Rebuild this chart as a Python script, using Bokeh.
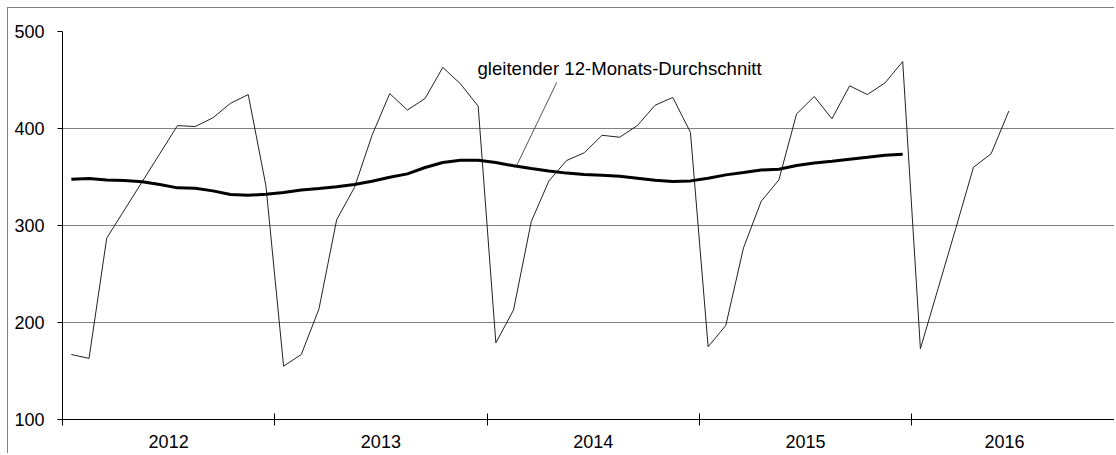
import numpy as np
from bokeh.plotting import figure
from bokeh.models import Range1d, FixedTicker, Label
from bokeh.embed import file_html
from bokeh.resources import INLINE

# ---- data ----
years = [2012, 2013, 2014, 2015, 2016]
year_label_pos = [6, 18, 30, 42, 53.25]      # centre of each year group (month units)
year_boundaries = [0, 12, 24, 36, 48]

monthly_values = [
    167, 163, 287, 316, 345, 374, 403, 402, 411, 426, 435, 341,   # 2012
    155, 167, 214, 306, 339, 393, 436, 419, 431, 463, 446, 423,   # 2013
    179, 213, 304, 346, 367, 375, 393, 391, 403, 424, 432, 396,   # 2014
    175, 197, 277, 325, 347, 415, 433, 410, 444, 435, 447, 469,   # 2015
    173, 235, 297, 360, 374, 418,                                 # 2016
]
moving_avg = [
    347.7, 348.4, 347.0, 346.4, 345.0, 342.3, 338.8, 338.5, 335.7, 332.0, 331.2, 332.3,
    334.0, 336.7, 338.1, 340.0, 342.3, 345.7, 349.8, 353.2, 359.8, 365.0, 367.3, 367.3,
    365.0, 361.5, 358.8, 356.3, 354.0, 352.6, 351.9, 350.8, 348.8, 346.7, 345.3, 346.0,
    348.8, 352.2, 354.6, 357.3, 358.0, 361.8, 364.5, 366.3, 368.4, 370.4, 372.5, 373.5,
]
y_ticks = [100, 200, 300, 400, 500]
annotation_text = "gleitender 12-Monats-Durchschnitt"

FONT = "Liberation Sans"

x_monthly = np.arange(len(monthly_values)) + 0.5
x_avg = np.arange(len(moving_avg)) + 0.5

p = figure(width=1107, height=446,
           x_range=Range1d(0, 59.53), y_range=Range1d(100, 500),
           output_backend="svg", toolbar_location=None,
           min_border_left=54, min_border_right=0,
           min_border_top=23, min_border_bottom=35)
p.styles = {"border-left": "1px solid #808080", "border-top": "1px solid #808080",
            "margin-left": "7px", "margin-top": "7px"}
p.outline_line_color = None
p.background_fill_color = "white"
p.border_fill_color = "white"

# y axis
p.yaxis.ticker = FixedTicker(ticks=y_ticks)
p.yaxis.axis_line_color = "black"
p.yaxis.major_tick_line_color = "black"
p.yaxis.major_tick_in = 0
p.yaxis.major_tick_out = 5
p.yaxis.minor_tick_line_color = None
p.yaxis.major_label_text_font = FONT
p.yaxis.major_label_text_font_size = "18px"
p.yaxis.major_label_text_color = "black"
p.yaxis.major_label_standoff = 13

# x axis
p.xaxis.ticker = FixedTicker(ticks=year_label_pos, minor_ticks=year_boundaries)
p.xaxis.major_label_overrides = {pos: str(y) for pos, y in zip(year_label_pos, years)}
p.xaxis.major_tick_line_color = None
p.xaxis.major_tick_in = 0
p.xaxis.major_tick_out = 0
p.xaxis.minor_tick_line_color = "black"
p.xaxis.minor_tick_in = 6
p.xaxis.minor_tick_out = 6
p.xaxis.axis_line_color = "black"
p.xaxis.major_label_text_font = FONT
p.xaxis.major_label_text_font_size = "18px"
p.xaxis.major_label_text_color = "black"
p.xaxis.major_label_standoff = 9

p.xgrid.visible = False
p.ygrid.grid_line_color = "#808080"
p.ygrid.grid_line_width = 1

# series
p.line(x_monthly, monthly_values, line_color="#222222", line_width=1)
p.line(x_avg, moving_avg, line_color="black", line_width=3)

# annotation with leader line
p.line([25.68, 27.94], [362.0, 447.4], line_color="#555555", line_width=1)
p.add_layout(Label(x=23.46, y=462, text=annotation_text, text_font=FONT,
                   text_font_size="18.6px", text_color="black",
                   text_baseline="alphabetic"))

open("out.html", "w").write(file_html(p, INLINE))
